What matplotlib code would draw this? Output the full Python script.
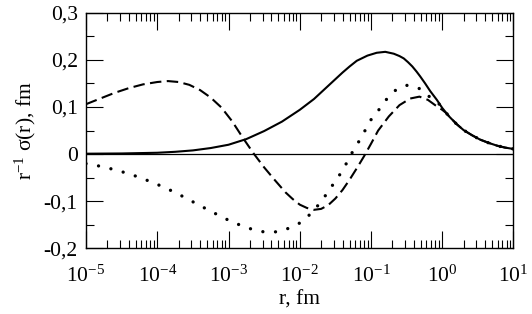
import numpy as np
import matplotlib
matplotlib.use('Agg')
import matplotlib.pyplot as plt
from matplotlib.ticker import FixedLocator, FuncFormatter, NullFormatter

plt.rcParams['font.family'] = ['Liberation Serif', 'DejaVu Serif']
plt.rcParams['mathtext.fontset'] = 'custom'
plt.rcParams['mathtext.rm'] = 'Liberation Serif'
plt.rcParams['mathtext.it'] = 'Liberation Serif:italic'

# log10(r) and values
solid_exp = [-5, -4.5, -4, -3.75, -3.5, -3.25, -3, -2.75, -2.5, -2.25, -2.0, -1.8, -1.6,
             -1.5, -1.4, -1.3, -1.2, -1.05, -0.92, -0.8, -0.68, -0.6, -0.54, -0.48, -0.42,
             -0.36, -0.31, -0.24, -0.17, -0.075, 0.0, 0.09, 0.2, 0.3, 0.42, 0.53, 0.65,
             0.77, 0.88, 1.0]
solid_val = [0.001, 0.0015, 0.003, 0.005, 0.008, 0.013, 0.020, 0.032, 0.049, 0.069, 0.094,
             0.117, 0.145, 0.159, 0.173, 0.186, 0.198, 0.209, 0.215, 0.217, 0.213, 0.208,
             0.203, 0.195, 0.186, 0.175, 0.165, 0.150, 0.134, 0.115, 0.098, 0.081, 0.064,
             0.051, 0.040, 0.031, 0.024, 0.018, 0.014, 0.011]

dash_exp = [-5, -4.8, -4.6, -4.4, -4.2, -4.0, -3.85, -3.7, -3.55, -3.4, -3.25, -3.1, -2.95,
            -2.8, -2.65, -2.5, -2.35, -2.2, -2.1, -2.0, -1.9, -1.8, -1.7, -1.6, -1.5, -1.4,
            -1.3, -1.2, -1.1, -1.0, -0.9, -0.75, -0.6, -0.45, -0.32, -0.2, -0.1, 0.0, 0.05,
            0.2, 0.3, 0.42, 0.53, 0.65, 0.77, 0.88, 1.0]
dash_val = [0.106, 0.118, 0.130, 0.140, 0.148, 0.153, 0.155, 0.153, 0.147, 0.136, 0.120,
            0.099, 0.070, 0.035, 0.002, -0.028, -0.055, -0.081, -0.095, -0.107, -0.114,
            -0.118, -0.116, -0.108, -0.094, -0.076, -0.054, -0.030, -0.005, 0.022, 0.050,
            0.080, 0.104, 0.118, 0.122, 0.115, 0.104, 0.094, 0.088, 0.064, 0.051, 0.040,
            0.031, 0.024, 0.018, 0.014, 0.011]

dot_exp = [-5, -4.75, -4.5, -4.25, -4, -3.75, -3.5, -3.25, -3.0, -2.75, -2.5, -2.35, -2.2,
           -2.0, -1.85, -1.7, -1.55, -1.4, -1.27, -1.15, -1.0, -0.89, -0.79, -0.66, -0.5,
           -0.33, -0.19, -0.075, 0.0, 0.09, 0.2, 0.3, 0.42, 0.53, 0.65, 0.77, 0.88, 1.0]
dot_val = [-0.020, -0.027, -0.037, -0.049, -0.064, -0.081, -0.101, -0.121, -0.140, -0.156,
           -0.165, -0.165, -0.160, -0.146, -0.127, -0.101, -0.068, -0.035, 0.002, 0.032,
           0.073, 0.094, 0.115, 0.135, 0.146, 0.140, 0.123, 0.112, 0.098, 0.081, 0.064,
           0.051, 0.040, 0.031, 0.024, 0.018, 0.014, 0.011]

x_decades = [-5, -4, -3, -2, -1, 0, 1]
y_major = [-0.2, -0.1, 0.0, 0.1, 0.2, 0.3]
y_minor = [-0.15, -0.05, 0.05, 0.15, 0.25]

fs = 15.5

fig = plt.figure(figsize=(5.32, 3.14), dpi=100)
ax = fig.add_axes([0.1617, 0.2086, 0.8035, 0.751])

ax.axhline(0, color='black', lw=0.9)
ax.plot(10 ** np.array(solid_exp), solid_val, color='black', lw=1.5)
ax.plot(10 ** np.array(dash_exp), dash_val, color='black', lw=1.5,
        linestyle=(0, (5.5, 2.6)))
ax.plot(10 ** np.array(dot_exp), dot_val, color='black', lw=2.4,
        linestyle=(0, (0.01, 3.8)), dash_capstyle='round')

ax.set_xscale('log')
ax.set_xlim(1e-5, 10)
ax.set_ylim(-0.2, 0.3)

xmaj = [10.0 ** d for d in x_decades]
xmin = [k * 10.0 ** d for d in x_decades[:-1] for k in range(2, 10)]
ax.xaxis.set_major_locator(FixedLocator(xmaj))
ax.xaxis.set_minor_locator(FixedLocator(xmin))
ax.xaxis.set_minor_formatter(NullFormatter())
ax.xaxis.set_major_formatter(FuncFormatter(lambda v, p: r'10$^{%d}$' % round(np.log10(v))))

ax.yaxis.set_major_locator(FixedLocator(y_major))
ax.yaxis.set_minor_locator(FixedLocator(y_minor))


def yfmt(v, p):
    if abs(v) < 1e-9:
        return '0'
    return ('%.1f' % v).replace('.', ',')


ax.yaxis.set_major_formatter(FuncFormatter(yfmt))

ax.tick_params(which='both', direction='in', top=True, right=True, width=0.8,
               labelsize=fs, colors='black')
ax.tick_params(which='major', length=12)
ax.tick_params(which='minor', length=6)
ax.tick_params(axis='x', pad=12)
ax.tick_params(axis='y', pad=6)
for s in ax.spines.values():
    s.set_linewidth(1.0)

ax.set_xlabel('r, fm', fontsize=fs, labelpad=3)
ax.set_ylabel(r'r$^{-1}$ σ(r), fm', fontsize=fs, labelpad=4)

fig.savefig('out.png', dpi=100)
